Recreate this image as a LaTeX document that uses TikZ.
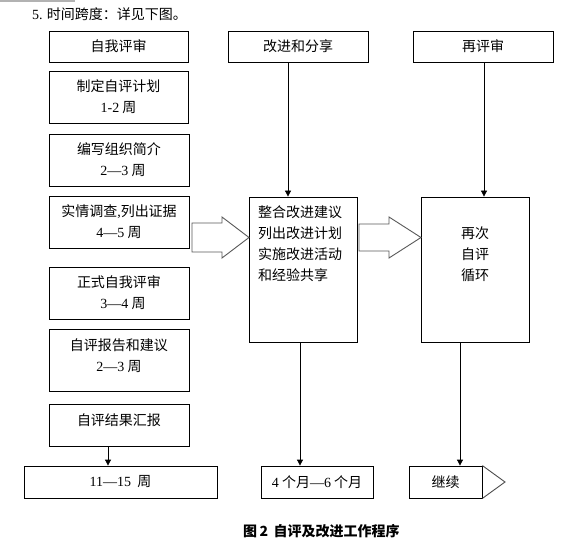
\documentclass[tikz,border=0pt]{standalone}
\usepackage{fontspec}
\setmainfont{Noto Sans CJK SC}
\newfontfamily\lat{Liberation Serif}
\usetikzlibrary{arrows.meta}
\begin{document}
\begin{tikzpicture}[x=1pt,y=-1pt,
  font=\fontsize{14pt}{21pt}\selectfont,
  box/.style={draw, line width=0.8pt, inner sep=0pt, align=center},
  txt/.style={inner sep=0pt, align=center},
  arr/.style={-{Triangle[width=6pt,length=6pt]}, line width=0.8pt},
  bigarrow/.style={draw=black!65, line width=0.9pt, fill=white, line join=miter}]
\useasboundingbox (0,0) rectangle (566,551);
% top rule fragment
\draw[black!30, line width=2pt] (0,1.5) -- (75,1.5);
\node[txt, anchor=west] (intro) at (32,14) {{\lat 5.} 时间跨度：详见下图。};
% headers
\node[box, minimum width=139pt, minimum height=31pt] (h1) at (118.5,46.5) {自我评审};
\node[box, minimum width=140pt, minimum height=31pt] (h2) at (298,46.5) {改进和分享};
\node[box, minimum width=140pt, minimum height=31pt] (h3) at (483,46.5) {再评审};
% left column
\node[box, minimum width=139pt, minimum height=52pt] (l1) at (118.5,97) {制定自评计划\\{\lat 1-2} 周};
\node[box, minimum width=140pt, minimum height=52pt] (l2) at (119,160) {编写组织简介\\\hspace*{8pt}{\lat 2—3} 周};
\node[box, minimum width=140pt, minimum height=52pt] (l3) at (119,222) {实情调查{\lat ,}列出证据\\{\lat 4—5} 周};
\node[box, minimum width=140pt, minimum height=52pt] (l4) at (119,293) {正式自我评审\\\hspace*{8pt}{\lat 3—4} 周};
\node[box, minimum width=140pt, minimum height=62pt] (l5) at (119,360) {};
\node[txt] (l5t) at (119,355.5) {自评报告和建议\\{\lat 2—3} 周};
\node[box, minimum width=140pt, minimum height=42pt] (l6) at (119,425) {};
\node[txt] (l6t) at (119,420) {自评结果汇报};
\node[box, minimum width=193pt, minimum height=32pt] (b1) at (120.5,482) {{\lat 11—15} \ 周};
% middle column
\node[box, minimum width=108pt, minimum height=145pt] (m) at (303,269.5) {};
\node[txt, align=left, anchor=west] (mt) at (258,243.5) {整合改进建议\\列出改进计划\\实施改进活动\\和经验共享};
\node[box, minimum width=112pt, minimum height=32pt] (b2) at (317,482) {{\lat 4} 个月{\lat —6} 个月};
% right column
\node[box, minimum width=108pt, minimum height=145pt] (r) at (475,269.5) {};
\node[txt] (rt) at (475,254) {再次\\自评\\循环};
\node[box, minimum width=73pt, minimum height=32pt] (b3) at (445.5,482) {继续};
\draw[draw=black!70, line width=0.9pt] (b3.north east) -- (505,482) -- (b3.south east);
% connectors
\coordinate (xa) at (288,0);
\coordinate (xb) at (484,0);
\coordinate (xc) at (108,0);
\coordinate (xd) at (300,0);
\coordinate (xe) at (460,0);
\draw[arr] (h2.south -| xa) -- (m.north -| xa);
\draw[arr] (h3.south -| xb) -- (r.north -| xb);
\draw[arr] (l6.south -| xc) -- (b1.north -| xc);
\draw[arr] (m.south -| xd) -- (b2.north -| xd);
\draw[arr] (r.south -| xe) -- (b3.north -| xe);
% block arrows
\draw[bigarrow] (192,223) -- (222,223) -- (222,217) -- (249,237.5) -- (222,258) -- (222,252) -- (192,252) -- cycle;
\draw[bigarrow] (359,224) -- (389,224) -- (389,217) -- (421,237.5) -- (389,258) -- (389,251) -- (359,251) -- cycle;
% caption
\node[txt, anchor=west, font=\fontsize{14pt}{16pt}\selectfont\bfseries] (cap) at (243,531) {图\,2\, 自评及改进工作程序};
\end{tikzpicture}
\end{document}
